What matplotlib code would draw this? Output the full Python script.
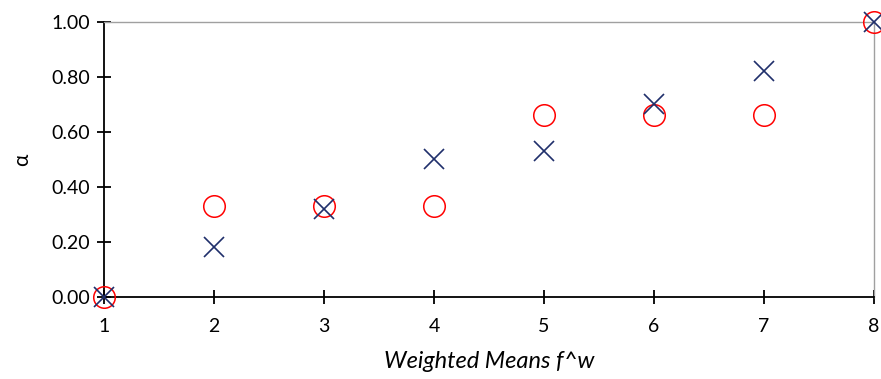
import matplotlib
matplotlib.use("Agg")
import matplotlib.pyplot as plt

x_vals = [1, 2, 3, 4, 5, 6, 7, 8]
alpha_cross = [0.00, 0.18, 0.32, 0.50, 0.53, 0.70, 0.82, 1.00]
alpha_circle = [0.00, 0.33, 0.33, 0.33, 0.66, 0.66, 0.66, 1.00]
y_ticks = [0.0, 0.2, 0.4, 0.6, 0.8, 1.0]
x_ticks = [1, 2, 3, 4, 5, 6, 7, 8]

plt.rcParams['font.family'] = ['Lato', 'DejaVu Sans']

fig = plt.figure(figsize=(8.81, 3.79), dpi=100)
ax = fig.add_axes([0.118, 0.2164, 0.874, 0.7256])

ax.plot(x_vals, alpha_circle, linestyle='none', marker='o', markersize=15.5,
        markerfacecolor='none', markeredgecolor='#ff0000', markeredgewidth=1.1,
        clip_on=False, zorder=3)
ax.plot(x_vals, alpha_cross, linestyle='none', marker='x', markersize=15,
        color='#1f2f6b', markeredgewidth=1.2, clip_on=False, zorder=4)

ax.set_xlim(1, 8)
ax.set_ylim(0, 1)
ax.set_xticks(x_ticks)
ax.set_yticks(y_ticks)
ax.set_yticklabels([f"{v:.2f}" for v in y_ticks])
ax.tick_params(axis='both', direction='inout', length=10, width=1.3,
               labelsize=14, colors='black')
ax.tick_params(axis='x', pad=10)
ax.tick_params(axis='y', pad=5)

for side in ('left', 'bottom'):
    ax.spines[side].set_color('black')
    ax.spines[side].set_linewidth(1.3)
for side in ('top', 'right'):
    ax.spines[side].set_color('#a0a0a0')
    ax.spines[side].set_linewidth(1.0)

ax.set_xlabel('Weighted Means f^w', fontsize=17, style='italic', labelpad=12)
ax.set_ylabel('α', fontsize=15, labelpad=14)

fig.savefig('out.png', dpi=100)
